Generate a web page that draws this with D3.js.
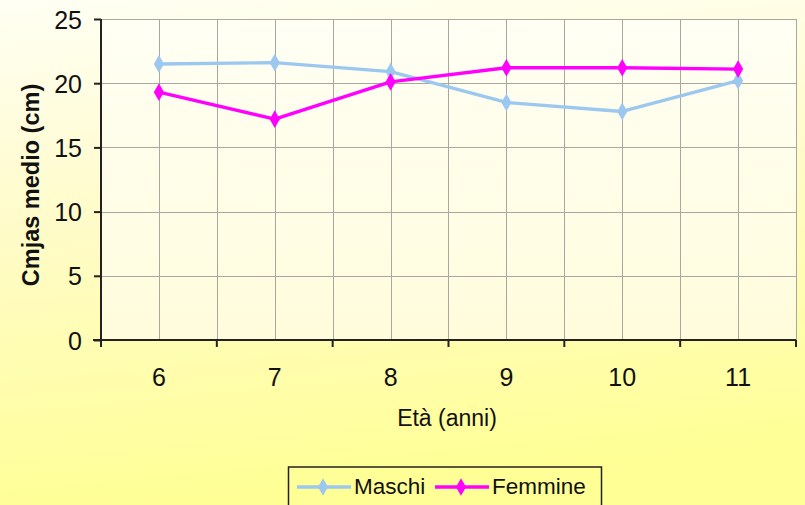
<!DOCTYPE html>
<html>
<head>
<meta charset="utf-8">
<script src="https://cdn.jsdelivr.net/npm/d3@7"></script>
<style>
  html, body { margin: 0; padding: 0; }
  body { width: 805px; height: 505px; overflow: hidden; }
  text { font-family: "Liberation Sans", Arial, sans-serif; }
</style>
</head>
<body>
<svg id="chart" width="805" height="505"></svg>
<script>
// Età (anni) on the x axis, mean length in cm on the y axis
const categories = ["6", "7", "8", "9", "10", "11"];
const maschi = [21.5, 21.6, 20.9, 18.5, 17.8, 20.2];
const femmine = [19.3, 17.2, 20.1, 21.2, 21.2, 21.1];
const yTicks = [0, 5, 10, 15, 20, 25];

const series = [
  { name: "Maschi", values: maschi, color: "#9CC8F0" },
  { name: "Femmine", values: femmine, color: "#FF00FF" }
];

const svg = d3.select("#chart");
const W = 805, H = 505;
const plot = { left: 101, right: 796, top: 19, bottom: 340 };

const defs = svg.append("defs");
const bg = defs.append("linearGradient").attr("id", "bg")
  .attr("x1", "0").attr("y1", "0").attr("x2", "0.15").attr("y2", "1");
bg.append("stop").attr("offset", "0%").attr("stop-color", "#FFFFF4");
bg.append("stop").attr("offset", "45%").attr("stop-color", "#FFFBC8");
bg.append("stop").attr("offset", "100%").attr("stop-color", "#FFFF96");

const pg = defs.append("linearGradient").attr("id", "plotbg")
  .attr("x1", "0").attr("y1", "0").attr("x2", "0").attr("y2", "1");
pg.append("stop").attr("offset", "0%").attr("stop-color", "#FFFFF4");
pg.append("stop").attr("offset", "100%").attr("stop-color", "#FFFCDC");

svg.append("rect").attr("width", W).attr("height", H).attr("fill", "url(#bg)");

const x = d3.scaleBand().domain(categories).range([plot.left, plot.right]).padding(0);
const y = d3.scaleLinear().domain([0, 25]).range([plot.bottom, plot.top]);
const bw = x.bandwidth();
const cx = c => x(c) + bw / 2;

svg.append("rect")
  .attr("x", plot.left).attr("y", plot.top)
  .attr("width", plot.right - plot.left).attr("height", plot.bottom - plot.top)
  .attr("fill", "url(#plotbg)");

// gridlines: horizontal at y ticks, vertical at band edges and centres
const grid = svg.append("g").attr("stroke", "#A8A8A0").attr("stroke-width", 1).attr("fill", "none");
yTicks.filter(t => t > 0).forEach(t => {
  grid.append("line").attr("x1", plot.left).attr("x2", plot.right)
    .attr("y1", Math.round(y(t)) + 0.5).attr("y2", Math.round(y(t)) + 0.5);
});
const vlines = [];
categories.forEach(c => { vlines.push(cx(c)); vlines.push(x(c) + bw); });
vlines.forEach(v => {
  grid.append("line").attr("x1", Math.round(v) + 0.5).attr("x2", Math.round(v) + 0.5)
    .attr("y1", plot.top).attr("y2", plot.bottom);
});

// y axis
const yAxis = d3.axisLeft(y).tickValues(yTicks).tickSize(7).tickPadding(12);
const gy = svg.append("g").attr("transform", `translate(${plot.left},0)`).call(yAxis);
gy.select(".domain").attr("stroke", "#222").attr("stroke-width", 2).attr("d", `M0,${plot.top}V${plot.bottom + 6}`);
gy.selectAll(".tick line").attr("stroke", "#222").attr("stroke-width", 2);
gy.selectAll(".tick text").attr("font-size", 25).attr("fill", "#111").attr("dy", "0.36em")
  .style("font-family", "'Liberation Sans', Arial, sans-serif");

// x axis: ticks at band edges, labels at band centres
const gx = svg.append("g").attr("transform", `translate(0,${plot.bottom})`);
gx.append("line").attr("x1", plot.left - 8).attr("x2", plot.right).attr("y1", 0).attr("y2", 0)
  .attr("stroke", "#222").attr("stroke-width", 2);
const edges = [plot.left].concat(categories.map(c => x(c) + bw));
gx.selectAll("line.tk").data(edges).enter().append("line").attr("class", "tk")
  .attr("x1", d => d).attr("x2", d => d).attr("y1", 0).attr("y2", 7)
  .attr("stroke", "#222").attr("stroke-width", 2);
gx.selectAll("text").data(categories).enter().append("text")
  .attr("x", d => cx(d)).attr("y", 46).attr("text-anchor", "middle")
  .attr("font-size", 25).attr("fill", "#111").text(d => d);

// axis titles
svg.append("text").attr("x", 447).attr("y", 426).attr("text-anchor", "middle")
  .attr("font-size", 23).attr("fill", "#111").text("Età (anni)");
svg.append("text").attr("transform", "translate(39,185) rotate(-90)")
  .attr("text-anchor", "middle").attr("font-size", 23.5).attr("font-weight", "bold")
  .attr("fill", "#111").text("Cmjas medio (cm)");

// series
const line = d3.line().x((d, i) => cx(categories[i])).y(d => y(d));
const diamond = d3.symbol().type(d3.symbolDiamond).size(90);
series.forEach(s => {
  svg.append("path").datum(s.values).attr("d", line)
    .attr("fill", "none").attr("stroke", s.color).attr("stroke-width", 3.4)
    .attr("stroke-linejoin", "round");
  svg.append("g").selectAll("path").data(s.values).enter().append("path")
    .attr("d", diamond)
    .attr("transform", (d, i) => `translate(${cx(categories[i])},${y(d)})`)
    .attr("fill", s.color);
});

// legend
const lg = svg.append("g");
lg.append("rect").attr("x", 288.5).attr("y", 467).attr("width", 313).attr("height", 50)
  .attr("fill", "none").attr("stroke", "#222").attr("stroke-width", 1.5);
const legendX = [297, 435];
series.forEach((s, i) => {
  const x0 = legendX[i];
  lg.append("line").attr("x1", x0).attr("x2", x0 + 54).attr("y1", 487).attr("y2", 487)
    .attr("stroke", s.color).attr("stroke-width", 3.4);
  lg.append("path").attr("d", diamond).attr("transform", `translate(${x0 + 26},487)`).attr("fill", s.color);
  lg.append("text").attr("x", x0 + 57).attr("y", 494).attr("font-size", 22.5)
    .attr("fill", "#111").text(s.name);
});
</script>
</body>
</html>
